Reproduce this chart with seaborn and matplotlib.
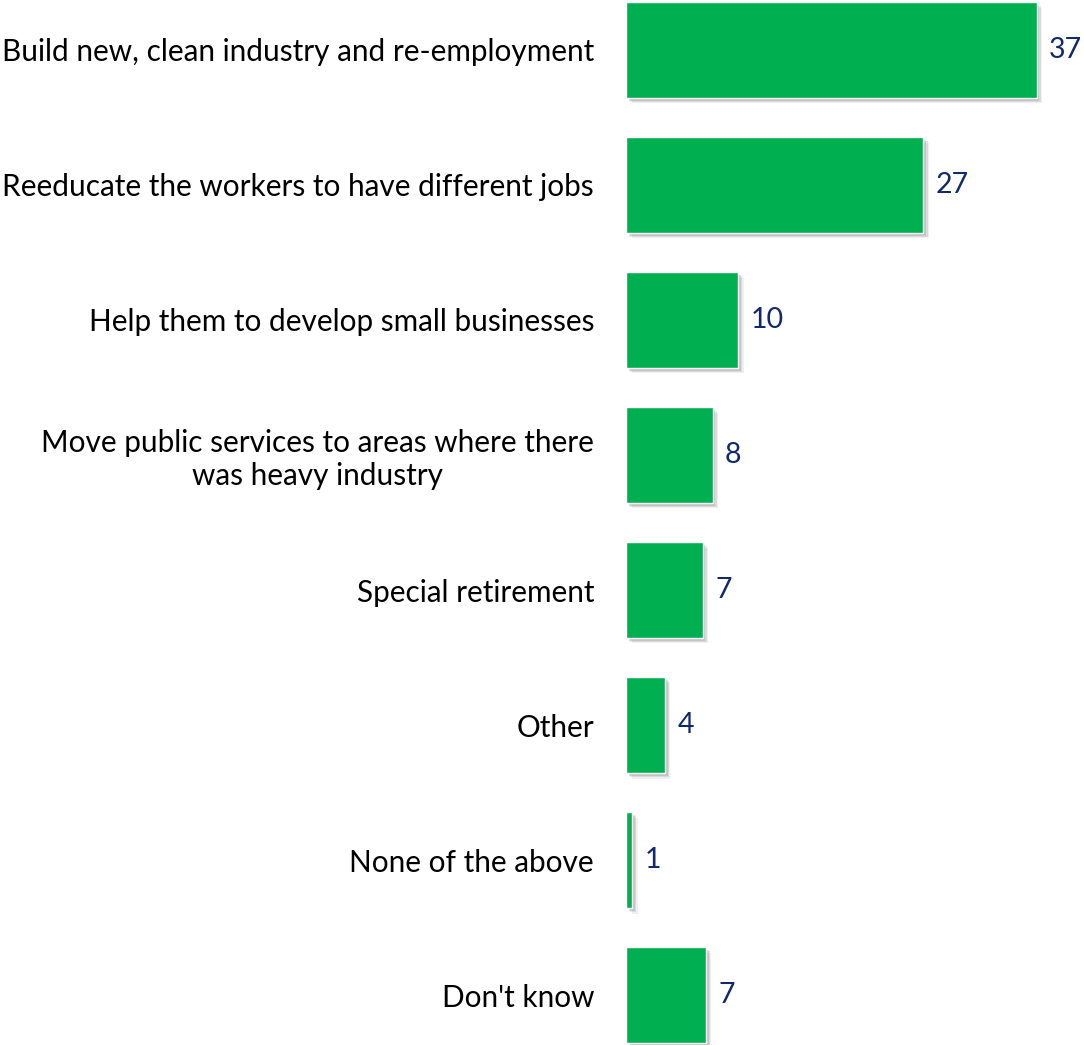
import matplotlib
matplotlib.use("Agg")
import matplotlib.pyplot as plt
import matplotlib.patheffects as pe
import seaborn as sns
import pandas as pd

categories = [
    "Build new, clean industry and re-employment",
    "Reeducate the workers to have different jobs",
    "Help them to develop small businesses",
    "Move public services to areas where there\nwas heavy industry",
    "Special retirement",
    "Other",
    "None of the above",
    "Don't know",
]
values = [37.0, 26.8, 10.1, 7.8, 6.9, 3.5, 0.55, 7.2]
value_labels = ["37", "27", "10", "8", "7", "4", "1", "7"]

df = pd.DataFrame({"category": categories, "value": values})

sns.set_theme(style="white")
plt.rcParams["font.family"] = ["Lato", "DejaVu Sans"]

W, H = 1084, 1045
fig = plt.figure(figsize=(W / 100, H / 100), dpi=100)
ax = fig.add_axes([626 / W, 0, (W - 626) / W, 1])

sns.barplot(data=df, y="category", x="value", orient="h", color="#00B050",
            saturation=1, width=0.71, ax=ax)

shadow = [pe.SimplePatchShadow(offset=(d, -d), shadow_rgbFace="#808080", alpha=a)
          for d, a in [(4.0, 0.12), (3.0, 0.18), (2.0, 0.25)]]
for p in ax.patches:
    p.set_path_effects(shadow + [pe.Normal()])

ax.set_xlim(0, (W - 626) / 11.1)
ax.set_ylim(7.37, -0.37)
ax.bar_label(ax.containers[0], labels=value_labels, padding=9, fontsize=20.5, color="#10296A")

ax.set_xlabel("")
ax.set_ylabel("")
ax.set_xticks([])
ax.tick_params(axis="y", length=0, pad=23)
for t in ax.get_yticklabels():
    t.set_fontsize(21.4)
    t.set_color("#000000")
    t.set_multialignment("center")
sns.despine(ax=ax, left=True, bottom=True)

fig.savefig("out.png", dpi=100)
